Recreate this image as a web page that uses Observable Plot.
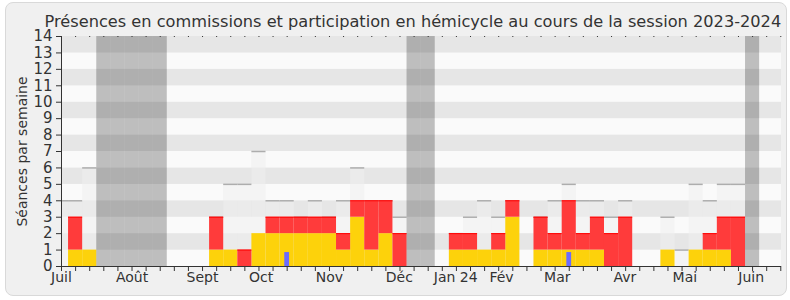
<!DOCTYPE html>
<html>
<head>
<meta charset="utf-8">
<script src="https://cdn.jsdelivr.net/npm/d3@7"></script>
<script src="https://cdn.jsdelivr.net/npm/@observablehq/plot@0.6"></script>
<style>
  html, body { margin: 0; padding: 0; background: #ffffff; }
  #wrap { position: relative; width: 790px; height: 300px; }
  #panel { position: absolute; left: 5px; top: 2px; width: 780px; height: 292px;
           background: #f0f0f0; border: 1px solid #d9d9d9; border-radius: 8px; }
  #chart { position: absolute; left: 0; top: 0; }
</style>
</head>
<body>
<div id="wrap"><div id="panel"></div><div id="chart"></div></div>
<script>
// Week index (0 = first week of July 2023)
const weeks      = [-1, 0, 1, 2, 3, 4, 5, 6, 7, 8, 9,10,11,12,13,14,15,16,17,18,19,20,21,22,23,24,25,26,27,28,29,30,31,32,33,34,35,36,37,38,39,40,41,42,43,44,45,46,47,48,49];
// total sessions of the week (light grey bars)
const seances    = [ 4, 4, 6, 0, 0, 0, 0, 0, 0, 0, 0, 3, 5, 5, 7, 4, 4, 3, 4, 3, 4, 6, 4, 4, 3, 0, 0, 0, 2, 3, 4, 3, 4, 0, 3, 4, 5, 4, 4, 3, 4, 0, 0, 3, 1, 5, 4, 5, 5, 0, 0];
// participation en hémicycle (yellow)
const hemicycle  = [ 0, 1, 1, 0, 0, 0, 0, 0, 0, 0, 0, 1, 1, 0, 2, 2, 2, 2, 2, 2, 1, 3, 1, 2, 0, 0, 0, 0, 1, 1, 1, 1, 3, 0, 1, 1, 1, 1, 1, 0, 0, 0, 0, 1, 0, 1, 1, 1, 0, 0, 0];
// présences en commission (red, stacked on yellow)
const commission = [ 0, 2, 0, 0, 0, 0, 0, 0, 0, 0, 0, 2, 0, 1, 0, 1, 1, 1, 1, 1, 1, 1, 3, 2, 2, 0, 0, 0, 1, 1, 0, 1, 1, 0, 2, 1, 3, 1, 2, 2, 3, 0, 0, 0, 0, 0, 1, 2, 3, 0, 0];
// questions (blue, thin)
const questions  = [ 0, 0, 0, 0, 0, 0, 0, 0, 0, 0, 0, 0, 0, 0, 0, 0, 1, 0, 0, 0, 0, 0, 0, 0, 0, 0, 0, 0, 0, 0, 0, 0, 0, 0, 0, 0, 1, 0, 0, 0, 0, 0, 0, 0, 0, 0, 0, 0, 0, 0, 0];
// vacation weeks (grey columns)
const vacances   = [2, 3, 4, 5, 6, 24, 25, 48];
// month labels and their positions (in weeks)
const monthLabels = ["Juil", "Août", "Sept", "Oct", "Nov", "Déc", "Jan 24", "Fév", "Mar", "Avr", "Mai", "Juin"];
const monthPos    = [-0.5, 4.5, 9.5, 13.65, 18.5, 23.45, 27.45, 30.7, 34.65, 39.45, 43.7, 48.4];
const yTicks = [0,1,2,3,4,5,6,7,8,9,10,11,12,13,14];
const xDomain = [-0.5, 50.55];

const title = "Présences en commissions et participation en hémicycle au cours de la session 2023-2024";
const yLabel = "Séances par semaine";

const data = weeks.map((k, i) => ({k, tot: seances[i], hem: hemicycle[i], com: commission[i], q: questions[i]}));
const bands = yTicks.slice(0, -1);
const xTicks = d3.range(xDomain[0], xDomain[1], 1);
const labelMap = new Map(monthPos.map((p, i) => [p, monthLabels[i]]));

const chart = Plot.plot({
  width: 790,
  height: 300,
  marginLeft: 61,
  marginRight: 9,
  marginTop: 36,
  marginBottom: 34,
  style: {background: "transparent", fontFamily: "DejaVu Sans", color: "#333", overflow: "visible"},
  x: {domain: xDomain},
  y: {domain: [0, 14]},
  marks: [
    Plot.rect(bands, {y1: d => d, y2: d => d + 1, fill: d => d % 2 ? "#e6e6e6" : "#fafafa"}),
    Plot.rectY(data.filter(d => d.tot > 0), {x1: d => d.k, x2: d => d.k + 1, y: "tot", fill: "#eeeeee", fillOpacity: 0.55, clip: true}),
    Plot.ruleY(data.filter(d => d.tot > 0), {y: "tot", x1: d => Math.max(d.k, xDomain[0]), x2: d => d.k + 1, stroke: "#adadad", strokeWidth: 1.5}),
    Plot.rectY(data.filter(d => d.hem > 0), {x1: d => d.k, x2: d => d.k + 1, y1: 0, y2: "hem", fill: "#fdd20b"}),
    Plot.rectY(data.filter(d => d.com > 0), {x1: d => d.k, x2: d => d.k + 1, y1: "hem", y2: d => d.hem + d.com, fill: "#ff3b3b"}),
    Plot.ruleY(data.filter(d => d.com > 0), {y: d => d.hem + d.com, x1: d => d.k, x2: d => d.k + 1, stroke: "#ff0000", strokeWidth: 1}),
    Plot.rectY(data.filter(d => d.q > 0), {x1: d => d.k + 0.33, x2: d => d.k + 0.67, y1: 0, y2: "q", insetTop: 2.5, fill: "#6b6bff"}),
    Plot.rect(vacances, {x1: d => d, x2: d => d + 1, fill: "black", fillOpacity: 0.24}),
    Plot.ruleY([0], {stroke: "#333"}),
    Plot.ruleX([xDomain[0]], {stroke: "#333"}),
    Plot.axisY({ticks: yTicks, tickSize: 5, tickPadding: 4, fontSize: 15, stroke: "#333", fill: "#333", label: null}),
    Plot.axisX({anchor: "bottom", ticks: xTicks, tickSize: 5, tickFormat: () => "", stroke: "#333", label: null}),
    Plot.axisX({anchor: "top", ticks: xTicks, tickSize: 1, tickFormat: () => "", stroke: "#333", label: null}),
    Plot.axisX({anchor: "bottom", ticks: monthPos, tickSize: 0, tickPadding: 6, fontSize: 14, fill: "#333", tickFormat: d => labelMap.get(d), label: null}),
    Plot.text([title], {frameAnchor: "top-left", dx: -17, dy: -21, textAnchor: "start", fontSize: 16.2, fill: "#333"}),
    Plot.text([yLabel], {frameAnchor: "left", dx: -39, rotate: -90, textAnchor: "middle", fontSize: 14, fill: "#333"})
  ]
});
document.getElementById("chart").appendChild(chart);
</script>
</body>
</html>
